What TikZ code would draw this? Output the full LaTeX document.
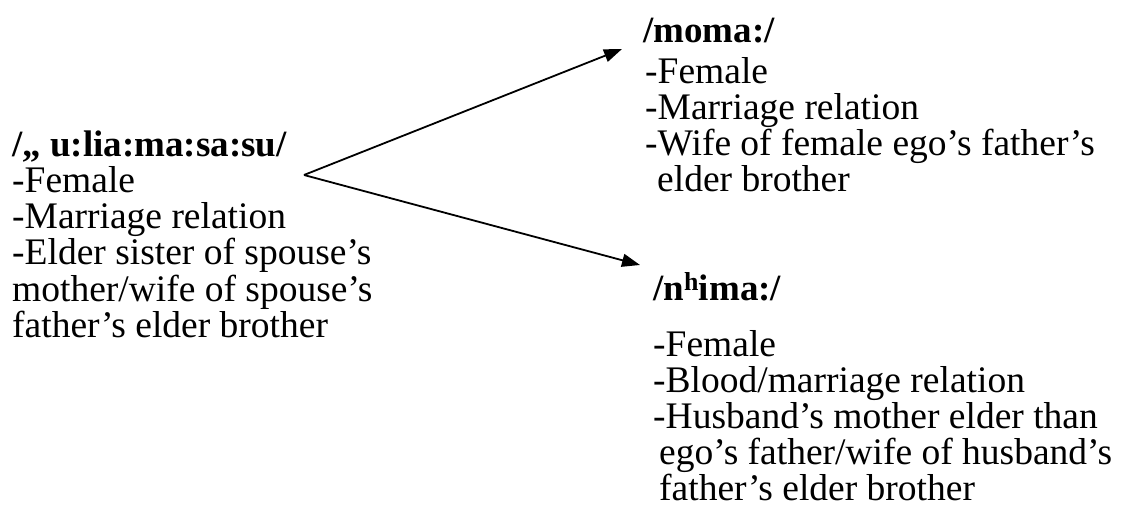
\documentclass[tikz,border=0pt]{standalone}
\usepackage{fontspec}
\setmainfont{Liberation Serif}
\usetikzlibrary{arrows.meta}

\tikzset{
  term/.style={anchor=base west, inner sep=0pt, font=\fontsize{37}{36}\selectfont\bfseries},
  feat/.style={anchor=base west, inner sep=0pt, font=\fontsize{37.5}{36}\selectfont},
  link/.style={line width=1.8pt, -{Triangle[length=18pt,width=13pt]}},
}

\begin{document}
\begin{tikzpicture}[x=1pt,y=-1pt]
  \useasboundingbox (0,0) rectangle (1127,513);

  % source term on the left
  \node[term] (ulia) at (12,157) {/„ u:lia:ma:sa:su/};
  \foreach \t [count=\i] in {-Female,-Marriage relation,-Elder sister of spouse’s,
      mother/wife of spouse’s,father’s elder brother}
    \node[feat] (ulia-\i) at (12,157+36*\i) {\t};

  % upper target
  \node[term] (moma) at (643,43) {/moma:/};
  \foreach \t [count=\i] in {-Female,-Marriage relation,-Wife of female ego’s father’s,
      \hspace{12pt}elder brother}
    \node[feat] (moma-\i) at (645,48+36*\i) {\t};

  % lower target
  \node[term] (nhima) at (653,300) {/n\textsuperscript{h}ima:/};
  \foreach \t [count=\i] in {-Female,-Blood/marriage relation,-Husband’s mother elder than,
      \hspace{6pt}ego’s father/wife of husband’s,\hspace{6pt}father’s elder brother}
    \node[feat] (nhima-\i) at (653,320+36*\i) {\t};

  % fork
  \coordinate (fork) at (304,175);
  \coordinate (tipA) at (622,49);
  \coordinate (tipB) at (640,265);
  \draw[link] (fork) -- (tipA);
  \draw[link] (fork) -- (tipB);
\end{tikzpicture}
\end{document}
